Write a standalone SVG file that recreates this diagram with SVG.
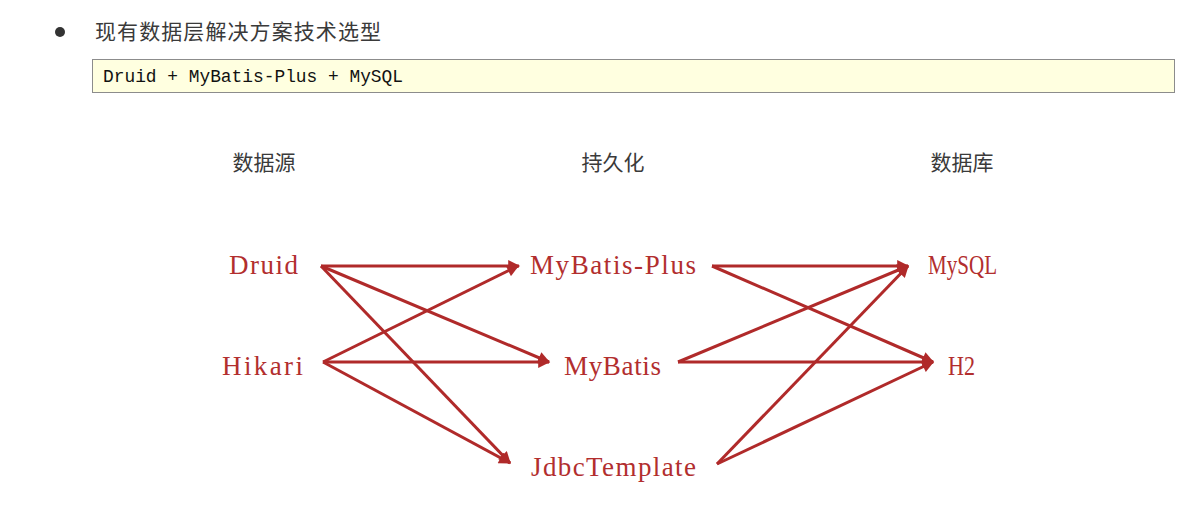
<svg xmlns="http://www.w3.org/2000/svg" width="1188" height="521" viewBox="0 0 1188 521">
<style>
.cjk{font-family:"Noto Sans CJK SC","Noto Sans",sans-serif;fill:#3a3a3a;font-size:21px}
.lbl{font-family:"Liberation Serif","DejaVu Serif",serif;fill:#b22e2e;font-size:27px;text-anchor:middle}
.code{font-family:"Liberation Mono","DejaVu Sans Mono",monospace;fill:#111;font-size:18px;font-weight:500}
.edge{stroke:#b02a2a;stroke-width:3;fill:none;marker-end:url(#ah)}
</style>
<defs>
<marker id="ah" viewBox="0 0 10 10" refX="9" refY="5" markerWidth="4.4" markerHeight="4" orient="auto" markerUnits="strokeWidth">
<path d="M0,0 L10,5 L0,10 z" fill="#b02a2a"/>
</marker>
</defs>
<rect width="1188" height="521" fill="#fff"/>
<g id="title">
<circle cx="60" cy="32" r="5" fill="#333"/>
<text class="cjk" x="95" y="39" textLength="286">现有数据层解决方案技术选型</text>
</g>
<g id="codebox">
<rect x="92.5" y="59.5" width="1082" height="33" fill="#ffffe0" stroke="#8c8c8c" stroke-width="1"/>
<text class="code" x="103" y="82" textLength="300" lengthAdjust="spacingAndGlyphs">Druid + MyBatis-Plus + MySQL</text>
</g>
<g id="headers">
<text class="cjk" x="264" y="170" text-anchor="middle">数据源</text>
<text class="cjk" x="613" y="170" text-anchor="middle">持久化</text>
<text class="cjk" x="962" y="170" text-anchor="middle">数据库</text>
</g>
<g id="edges">
<line class="edge" x1="321" y1="266" x2="519" y2="266"/>
<line class="edge" x1="321" y1="266" x2="549" y2="362"/>
<line class="edge" x1="321" y1="266" x2="510" y2="463"/>
<line class="edge" x1="323" y1="362" x2="518" y2="266"/>
<line class="edge" x1="323" y1="362" x2="549" y2="362"/>
<line class="edge" x1="323" y1="362" x2="510" y2="463"/>
<line class="edge" x1="712" y1="266" x2="908" y2="266"/>
<line class="edge" x1="712" y1="266" x2="933" y2="362"/>
<line class="edge" x1="678" y1="362" x2="908" y2="266"/>
<line class="edge" x1="678" y1="362" x2="933" y2="362"/>
<line class="edge" x1="717" y1="464" x2="908" y2="266"/>
<line class="edge" x1="717" y1="464" x2="933" y2="362"/>
</g>
<g id="node-druid"><text class="lbl" x="263.5" y="274" textLength="69" lengthAdjust="spacing">Druid</text></g>
<g id="node-hikari"><text class="lbl" x="262.5" y="375" textLength="81" lengthAdjust="spacing">Hikari</text></g>
<g id="node-mybatisplus"><text class="lbl" x="613" y="274" textLength="166" lengthAdjust="spacing">MyBatis-Plus</text></g>
<g id="node-mybatis"><text class="lbl" x="612.5" y="375" textLength="97" lengthAdjust="spacing">MyBatis</text></g>
<g id="node-jdbctemplate"><text class="lbl" x="613.5" y="476" textLength="165" lengthAdjust="spacing">JdbcTemplate</text></g>
<g id="node-mysql"><text class="lbl" x="962.5" y="274" textLength="69" lengthAdjust="spacingAndGlyphs">MySQL</text></g>
<g id="node-h2"><text class="lbl" x="961.5" y="375" textLength="27" lengthAdjust="spacingAndGlyphs">H2</text></g>
</svg>
